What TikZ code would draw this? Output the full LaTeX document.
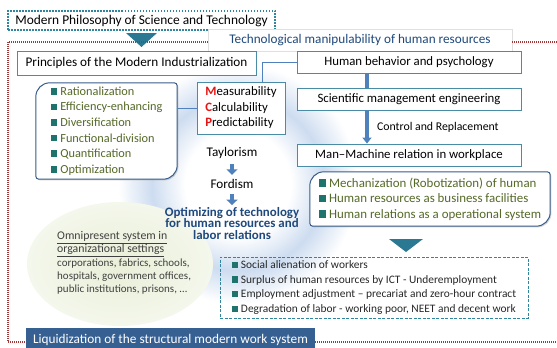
\documentclass[tikz,border=0pt]{standalone}
\usepackage{fontspec}
\setmainfont{Carlito}
\usetikzlibrary{arrows.meta}
\usetikzlibrary{backgrounds}
\usetikzlibrary{shadows}

\definecolor{tealdot}{RGB}{49,133,156}
\definecolor{tealtri}{RGB}{42,120,145}
\definecolor{boxline}{RGB}{74,140,166}
\definecolor{linkblue}{RGB}{79,129,189}
\definecolor{listline}{RGB}{56,93,138}
\definecolor{framered}{RGB}{165,55,55}
\definecolor{olivetext}{RGB}{85,105,40}
\definecolor{sqteal}{RGB}{30,115,108}
\definecolor{titleblue}{RGB}{31,73,125}
\definecolor{barblue}{RGB}{55,96,146}
\definecolor{mred}{RGB}{230,20,20}
\definecolor{glowblue}{RGB}{205,220,240}
\definecolor{ellgreen}{RGB}{233,239,216}
\definecolor{greytext}{RGB}{64,64,64}

\newcommand{\sqb}{{\color{sqteal}\rule[0.05em]{0.55em}{0.55em}}\hspace{0.25em}}
\newcommand{\hdline}[1]{\underline{\fontsize{11.8}{14}\selectfont #1}}

\pgfdeclareradialshading{glow}{\pgfpoint{0bp}{0bp}}{color(0bp)=(white); color(11bp)=(white); color(18bp)=(glowblue); color(25bp)=(white); color(50bp)=(white)}

\begin{document}
\begin{tikzpicture}[x=1pt, y=-1pt,
    box/.style={draw=boxline, fill=white, line width=0.9pt, minimum width=224pt, minimum height=22pt, inner sep=1pt, font=\fontsize{12.8}{14}\selectfont},
    link/.style={draw=linkblue, line width=0.8pt},
    frame/.style={draw=framered, line width=1.2pt, dash pattern=on 1.1pt off 0.9pt},
    listframe/.style={draw=listline, line width=1pt, fill=white, drop shadow={opacity=0.35, shadow xshift=1.2pt, shadow yshift=-1.2pt}},
    downarrow/.style={draw=linkblue, line width=4.5pt, -{Triangle[width=11pt,length=5.5pt]}, shorten <=2pt, shorten >=1pt},
    bigarrow/.style={draw=linkblue, line width=3.5pt, -{Triangle[width=9pt,length=6pt]}}]
    \useasboundingbox (0,0) rectangle (557,348);

    \node[draw=tealdot, line width=1.5pt, dash pattern=on 1.5pt off 1.5pt, minimum width=267pt, minimum height=19pt, inner sep=0pt, font=\fontsize{13.4}{14}\selectfont] (modphil) at (141.5,20.5) {Modern Philosophy of Science and Technology};
    \fill[tealtri] (126,33) -- (157,33) -- (141.5,47) -- cycle;

    \node[draw=gray!25, fill=white, line width=0.5pt, minimum width=304pt, minimum height=22pt, inner sep=1pt, text=titleblue, font=\fontsize{13.2}{14}\selectfont] (techlabel) at (360,40.5) {Technological manipulability of human resources};

    \draw[frame] (techlabel.west |- 0,42) -- (8,42) -- (8,342) -- (26,342);
    \draw[frame] (techlabel.east |- 0,42) -- (557,42);
    \draw[frame] (315,342) -- (557,342);

    \node[box, minimum width=239pt, minimum height=24pt, font=\fontsize{13.2}{14}\selectfont] (principles) at (136.5,63) {Principles of the Modern Industrialization};
    \node[box] (behavior) at (409,62) {Human behavior and psychology};
    \node[box] (sciman) at (409,99) {Scientific management engineering};
    \node[box] (manmachine) at (409,155) {Man--Machine relation in workplace};

    \node[draw=boxline, fill=white, line width=0.9pt, minimum width=88pt, minimum height=52pt, inner sep=2pt, align=left, font=\fontsize{12.8}{15.5}\selectfont] (mcp) at (241,108)
        {\textcolor{mred}{\textbf{M}}easurability\\\textcolor{mred}{\textbf{C}}alculability\\\textcolor{mred}{\textbf{P}}redictability};

    \node[minimum width=141pt, minimum height=96pt, align=left, text=olivetext, font=\fontsize{12.3}{15.6}\selectfont] (ideals) at (106.5,131)
        {\sqb Rationalization\\\sqb Efficiency-enhancing\\\sqb Diversification\\\sqb Functional-division\\\sqb Quantification\\\sqb Optimization};

    \node[minimum width=240pt, minimum height=54pt, align=left, text=olivetext, font=\fontsize{12.9}{15.5}\selectfont] (humanlist) at (430,199)
        {\sqb Mechanization (Robotization) of human\\\sqb Human resources as business facilities\\\sqb Human relations as a operational system};

    \begin{scope}[on background layer]
        \shade[shading=glow] (238,184) circle[radius=120];
        \shade[inner color=ellgreen, outer color=ellgreen!50!white] (120,264) ellipse[x radius=93, y radius=62];
        \draw[listframe] (ideals.west) [rounded corners=3pt] -- (ideals.south west) [rounded corners=14pt] -- (ideals.south east) [rounded corners=3pt] -- (ideals.north east) [rounded corners=14pt] -- (ideals.north west) [sharp corners] -- cycle;
        \draw[listframe] (humanlist.west) [rounded corners=3pt] -- (humanlist.south west) [rounded corners=14pt] -- (humanlist.south east) [rounded corners=3pt] -- (humanlist.north east) [rounded corners=14pt] -- (humanlist.north west) [sharp corners] -- cycle;
    \end{scope}

    \draw[link] (mcp.51) |- (behavior.west);
    \draw[link] (mcp.west) -- (mcp.west -| ideals.east);

    \coordinate (ax) at (367,0);
    \draw[draw=linkblue, line width=4pt] (behavior.south -| ax) -- (sciman.north -| ax);
    \draw[bigarrow] (sciman.south -| ax) -- node[right=5pt, text=black, font=\fontsize{11.8}{13}\selectfont] (ctrl) {Control and Replacement} (manmachine.north -| ax);

    \node[font=\fontsize{13.2}{14}\selectfont] (taylor) at (232,153) {Taylorism};
    \node[font=\fontsize{13.2}{14}\selectfont] (ford) at (232,184) {Fordism};
    \node[align=center, text=titleblue, font=\bfseries\fontsize{12.9}{11.6}\selectfont, inner sep=1pt] (optim) at (232,223.5)
        {Optimizing of technology\\for human resources and\\labor relations};
    \draw[downarrow] (taylor) -- (ford);
    \draw[downarrow] (ford) -- (optim);

    \node[align=left, text=greytext, font=\fontsize{11}{13.2}\selectfont, anchor=west, inner sep=0pt] (omni) at (57,263)
        {\hdline{Omnipresent system in}\\\hdline{organizational settings}\\corporations, fabrics, schools,\\hospitals, government offices,\\public institutions, prisons, \dots};

    \fill[tealtri] (389,239) -- (423,239) -- (406,252) -- cycle;

    \node[draw=tealdot, line width=0.8pt, dash pattern=on 3pt off 1.5pt, minimum width=308pt, minimum height=61pt, align=left, text=black!85, font=\fontsize{11.4}{14.7}\selectfont] (outcomes) at (374,287.5)
        {\sqb Social alienation of workers\\\sqb Surplus of human resources by ICT - Underemployment\\\sqb Employment adjustment -- precariat and zero-hour contract\\\sqb Degradation of labor - working poor, NEET and decent work};

    \node[fill=barblue, text=white, minimum width=289pt, minimum height=24pt, inner sep=1pt, font=\fontsize{13.3}{14}\selectfont] (liquid) at (170.5,340) {Liquidization of the structural modern work system};
\end{tikzpicture}
\end{document}
